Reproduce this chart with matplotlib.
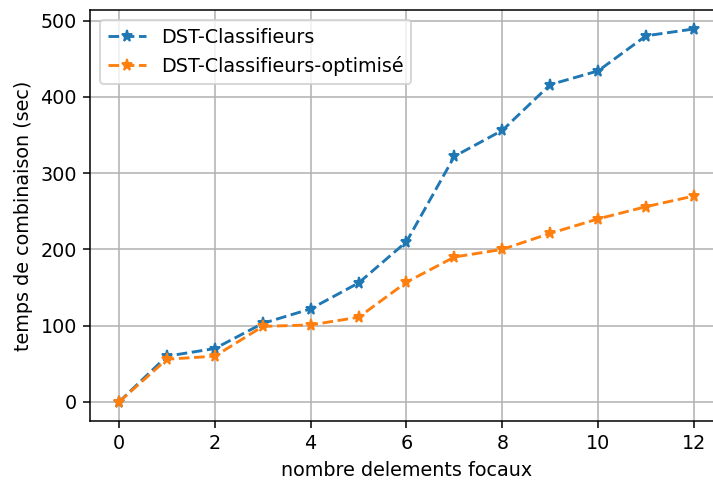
import matplotlib
matplotlib.use('Agg')
import matplotlib.pyplot as plt

# nombre d'elements focaux
x = list(range(13))
dst = [0, 60, 70, 103, 122, 156, 210, 322, 356, 416, 434, 480, 489]
dst_opt = [0, 56, 60, 99, 101, 111, 157, 190, 200, 221, 240, 256, 270]

fig = plt.figure(figsize=(713 / 138, 481 / 138), dpi=138)
ax = fig.add_axes([0.1266, 0.1256, 0.887, 0.853])

ax.plot(x, dst, '--*', label='DST-Classifieurs')
ax.plot(x, dst_opt, '--*', label='DST-Classifieurs-optimisé')
ax.set_xlabel('nombre delements focaux')
ax.set_ylabel('temps de combinaison (sec)')
ax.set_xticks(range(0, 13, 2))
ax.legend(loc='upper left')
ax.grid()

fig.savefig('out.png', dpi=138)
